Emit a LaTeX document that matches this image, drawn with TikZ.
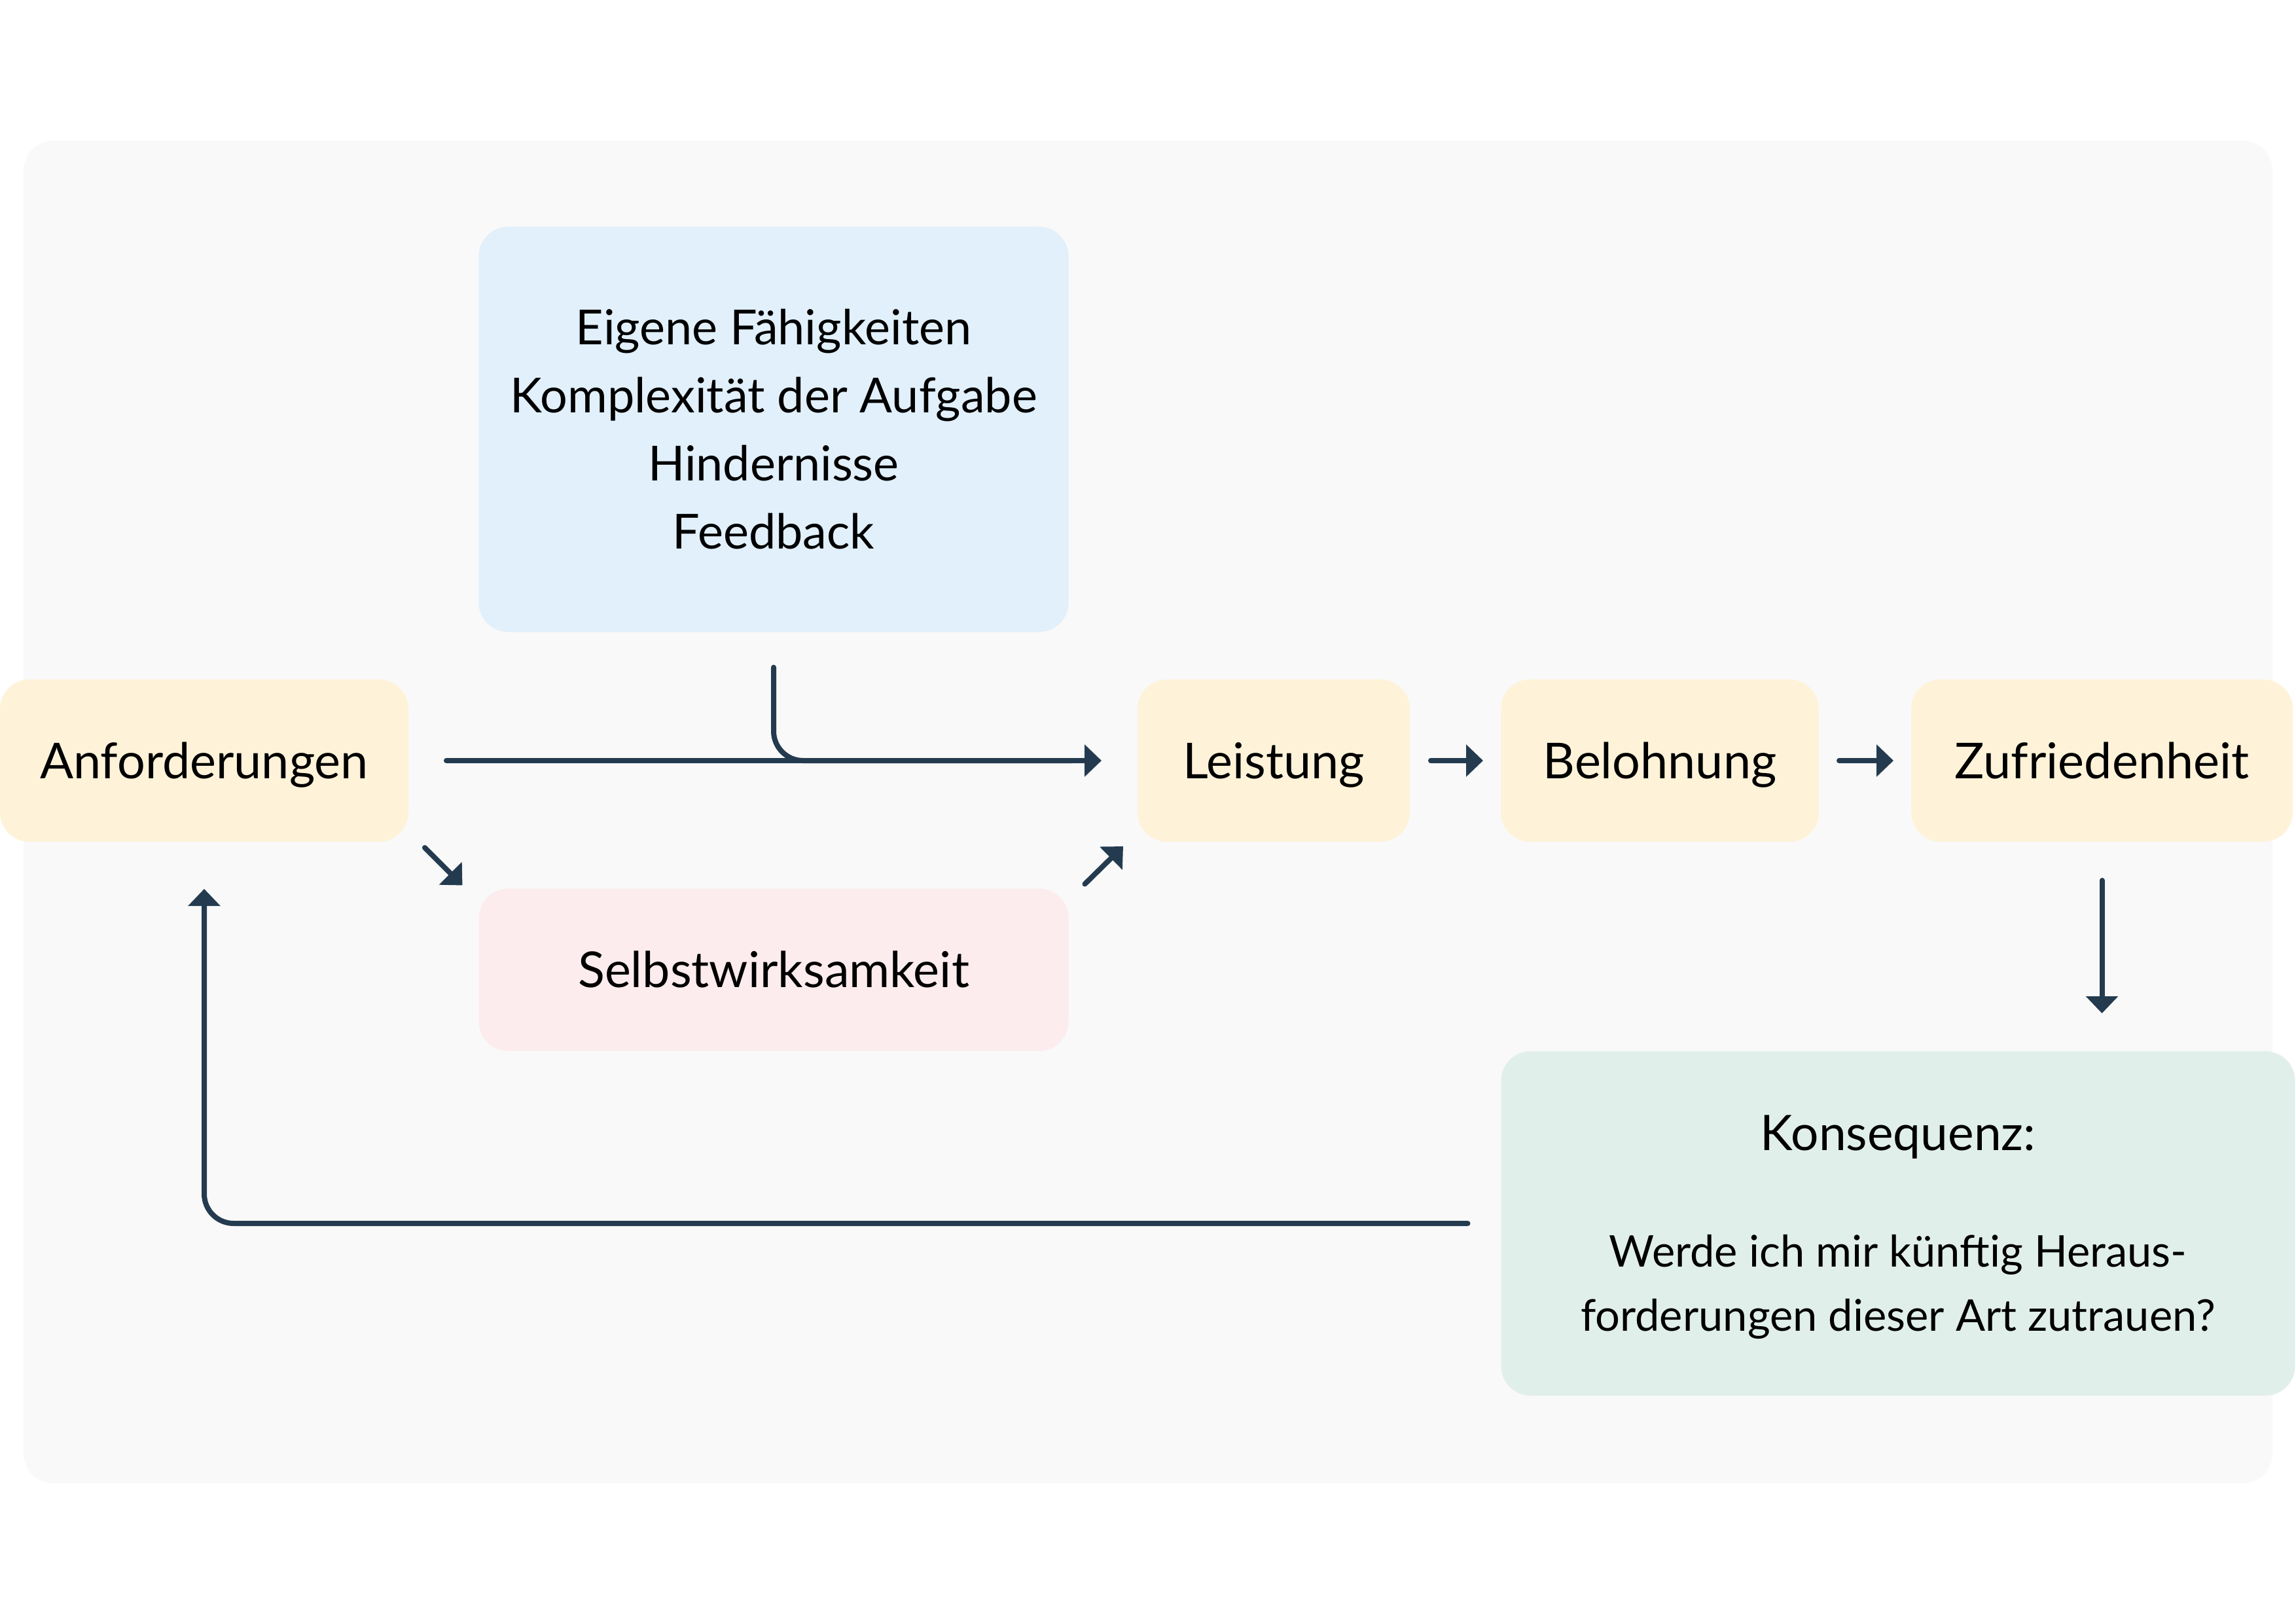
\documentclass[tikz,border=0pt]{standalone}
\usepackage{fontspec}
\setmainfont{Lato}
\usetikzlibrary{positioning,arrows.meta}
\definecolor{panelgray}{HTML}{F9F9F9}
\definecolor{boxyellow}{HTML}{FEF3D9}
\definecolor{boxblue}{HTML}{E1F0FB}
\definecolor{boxpink}{HTML}{FDECEE}
\definecolor{boxgreen}{HTML}{E1EFEB}
\definecolor{arrowdark}{HTML}{243B4F}

\begin{document}
\begin{tikzpicture}[
  ->,>={Triangle[length=2.6mm,width=4.8mm]}, % defines the style of the arrow tips
  line width=0.8mm, line cap=round,
  box/.style={rectangle,rounded corners=4.5mm,inner sep=0pt,outer sep=0pt,minimum height=2.48cm,align=center,font=\fontsize{21.5}{29.6}\selectfont}, % style of all boxes
  one line/.style={text height=15.4pt,text depth=0pt}, % centres one line on its capitals
  yellow node/.style={box,one line,fill=boxyellow}, % style of the boxes in the main row
  link/.style={draw=arrowdark} % style of the connectors
  ]

  \useasboundingbox (0,0) rectangle (35.08,-24.80);
  \fill[-,panelgray,rounded corners=4.5mm] (0.36,-2.15) rectangle (34.72,-22.66);

  \node[yellow node,minimum width=6.24cm] (anf) at (3.12,-11.62) {Anforderungen};
  \node[box,fill=boxblue,minimum width=9.01cm,minimum height=6.19cm,font=\fontsize{21}{29.6}\selectfont] (info) at (11.82,-6.56) {Eigene Fähigkeiten\\Komplexität der Aufgabe\\Hindernisse\\Feedback};
  \node[yellow node,minimum width=4.16cm] (leist) at (19.46,-11.62) {Leistung};
  \node[yellow node,minimum width=4.86cm,right=1.39cm of leist] (bel) {Belohnung};
  \node[yellow node,minimum width=5.83cm,right=1.41cm of bel] (zuf) {Zufriedenheit};
  \node[box,one line,fill=boxpink,minimum width=9.01cm,below=3.92cm of info] (selbst) {Selbstwirksamkeit};
  \node[box,fill=boxgreen,minimum width=12.13cm,minimum height=5.26cm,text depth=0pt,font=\fontsize{19}{27.9}\selectfont] (kons) at (29.00,-18.69) {{\fontsize{21.3}{27.9}\selectfont Konsequenz:}\\[8mm]Werde ich mir künftig Heraus-\\forderungen dieser Art zutrauen?};

  \draw[link,shorten <=5.8mm,shorten >=5.5mm] (anf) -- (leist);
  \draw[link,-,rounded corners=4.5mm] ([yshift=-5.4mm]info.south) |- ([xshift=-1cm]leist.west);
  \draw[link] ([shift={(0.25,-0.09)}]anf.south east) -- ([shift={(-0.25,0.05)}]selbst.north west);
  \draw[link] ([shift={(0.25,0.07)}]selbst.north east) -- ([shift={(-0.22,-0.07)}]leist.south west);
  \draw[link,shorten <=3.2mm,shorten >=2.7mm] (leist) -- (bel);
  \draw[link,shorten <=3.1mm,shorten >=2.7mm] (bel) -- (zuf);
  \draw[link,shorten <=5.9mm,shorten >=5.8mm] (zuf) -- (zuf |- kons.north);
  \draw[link,rounded corners=4.5mm,shorten >=7.2mm] ([xshift=-5.1mm]kons.west) -| (anf.south);
\end{tikzpicture}
\end{document}
